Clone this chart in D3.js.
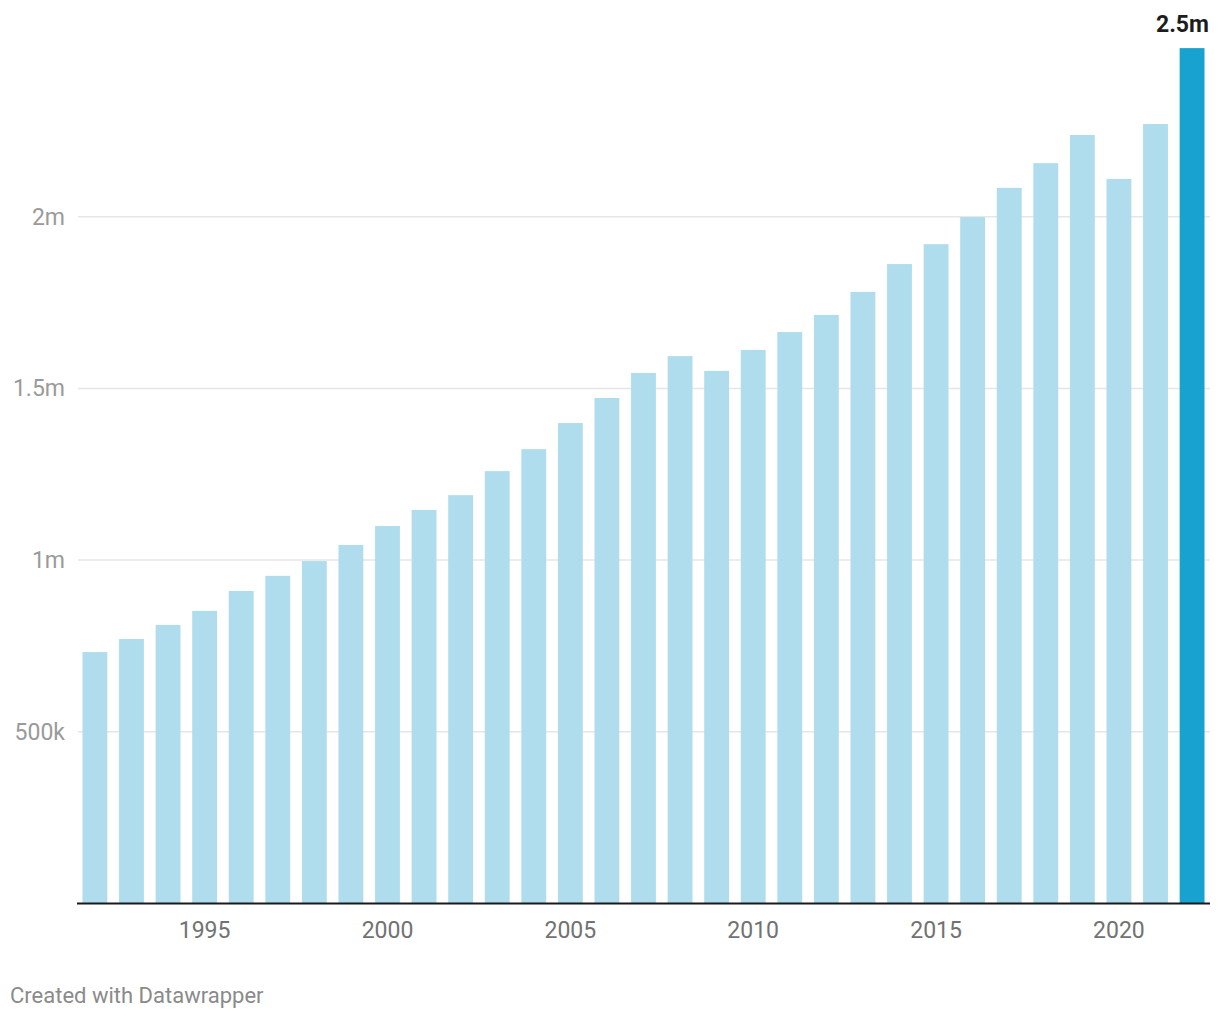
<!DOCTYPE html>
<html>
<head>
<meta charset="utf-8">
<script src="https://cdn.jsdelivr.net/npm/d3@7"></script>
<style>
	body { margin: 0; background: #fff; }
	svg { display: block; font-family: Roboto, "Noto Sans", sans-serif; }
</style>
</head>
<body>
<svg id="chart" width="1220" height="1020"></svg>
<script>
// bar values per year
var years = d3.range(1992, 2023);
var values = [
	732000, 770000, 811000, 852000, 910000, 954000, 997000, 1044000, 1099000, 1146000,
	1189000, 1259000, 1323000, 1399000, 1472000, 1545000, 1594000, 1551000, 1612000, 1664000,
	1714000, 1781000, 1862000, 1920000, 1999000, 2084000, 2156000, 2238000, 2110000, 2270000,
	2491000
];
var yTicks = [500000, 1000000, 1500000, 2000000];
var yTickLabels = ['500k', '1m', '1.5m', '2m'];
var xTicks = [1995, 2000, 2005, 2010, 2015, 2020];
var highlightYear = 2022;

var data = years.map(function (y, i) { return { year: y, value: values[i] }; });

var svg = d3.select('#chart'),
	left = 77, right = 1210,
	baseY = 903.4
	;

var x = d3.scaleBand()
	.domain(years)
	.range([left, right])
	.paddingInner(0.32)
	.paddingOuter(0.15);

var y = d3.scaleLinear()
	.domain([0, 2000000])
	.range([baseY, 216.7]);

// grid
var grid = svg.append('g').attr('class', 'grid');
grid.selectAll('line')
	.data(yTicks)
	.enter().append('line')
	.attr('x1', left + 1)
	.attr('x2', right)
	.attr('y1', function (d) { return y(d); })
	.attr('y2', function (d) { return y(d); })
	.attr('stroke', '#e6e6e6')
	.attr('stroke-width', 1.5);

grid.selectAll('text')
	.data(yTicks)
	.enter().append('text')
	.attr('x', 65)
	.attr('y', function (d) { return y(d) + 8; })
	.attr('text-anchor', 'end')
	.attr('font-size', 23)
	.attr('fill', '#9a9a9a')
	.text(function (d, i) { return yTickLabels[i]; });

// bars
svg.append('g').attr('class', 'bars')
	.selectAll('rect')
	.data(data)
	.enter().append('rect')
	.attr('x', function (d) { return x(d.year); })
	.attr('width', x.bandwidth())
	.attr('y', function (d) { return y(d.value); })
	.attr('height', function (d) { return baseY - y(d.value); })
	.attr('fill', function (d) { return d.year === highlightYear ? '#18a2cf' : '#afdded'; });

// highlight label
var last = data[data.length - 1];
svg.append('text')
	.attr('x', 1209)
	.attr('y', 31.5)
	.attr('text-anchor', 'end')
	.attr('font-size', 23)
	.attr('font-weight', 'bold')
	.attr('fill', '#1d1d1d')
	.text((last.value / 1e6).toFixed(1) + 'm');

// baseline
svg.append('line')
	.attr('x1', left)
	.attr('x2', right)
	.attr('y1', baseY)
	.attr('y2', baseY)
	.attr('stroke', '#1a1a1a')
	.attr('stroke-width', 2);

// x axis labels
svg.append('g').attr('class', 'x-axis')
	.selectAll('text')
	.data(xTicks)
	.enter().append('text')
	.attr('x', function (d) { return x(d) + x.bandwidth() / 2; })
	.attr('y', 938)
	.attr('text-anchor', 'middle')
	.attr('font-size', 23)
	.attr('fill', '#727272')
	.text(function (d) { return d; });

svg.append('text')
	.attr('x', 10)
	.attr('y', 1003)
	.attr('font-size', 22)
	.attr('fill', '#8a8a8a')
	.text('Created with Datawrapper');
</script>
</body>
</html>
